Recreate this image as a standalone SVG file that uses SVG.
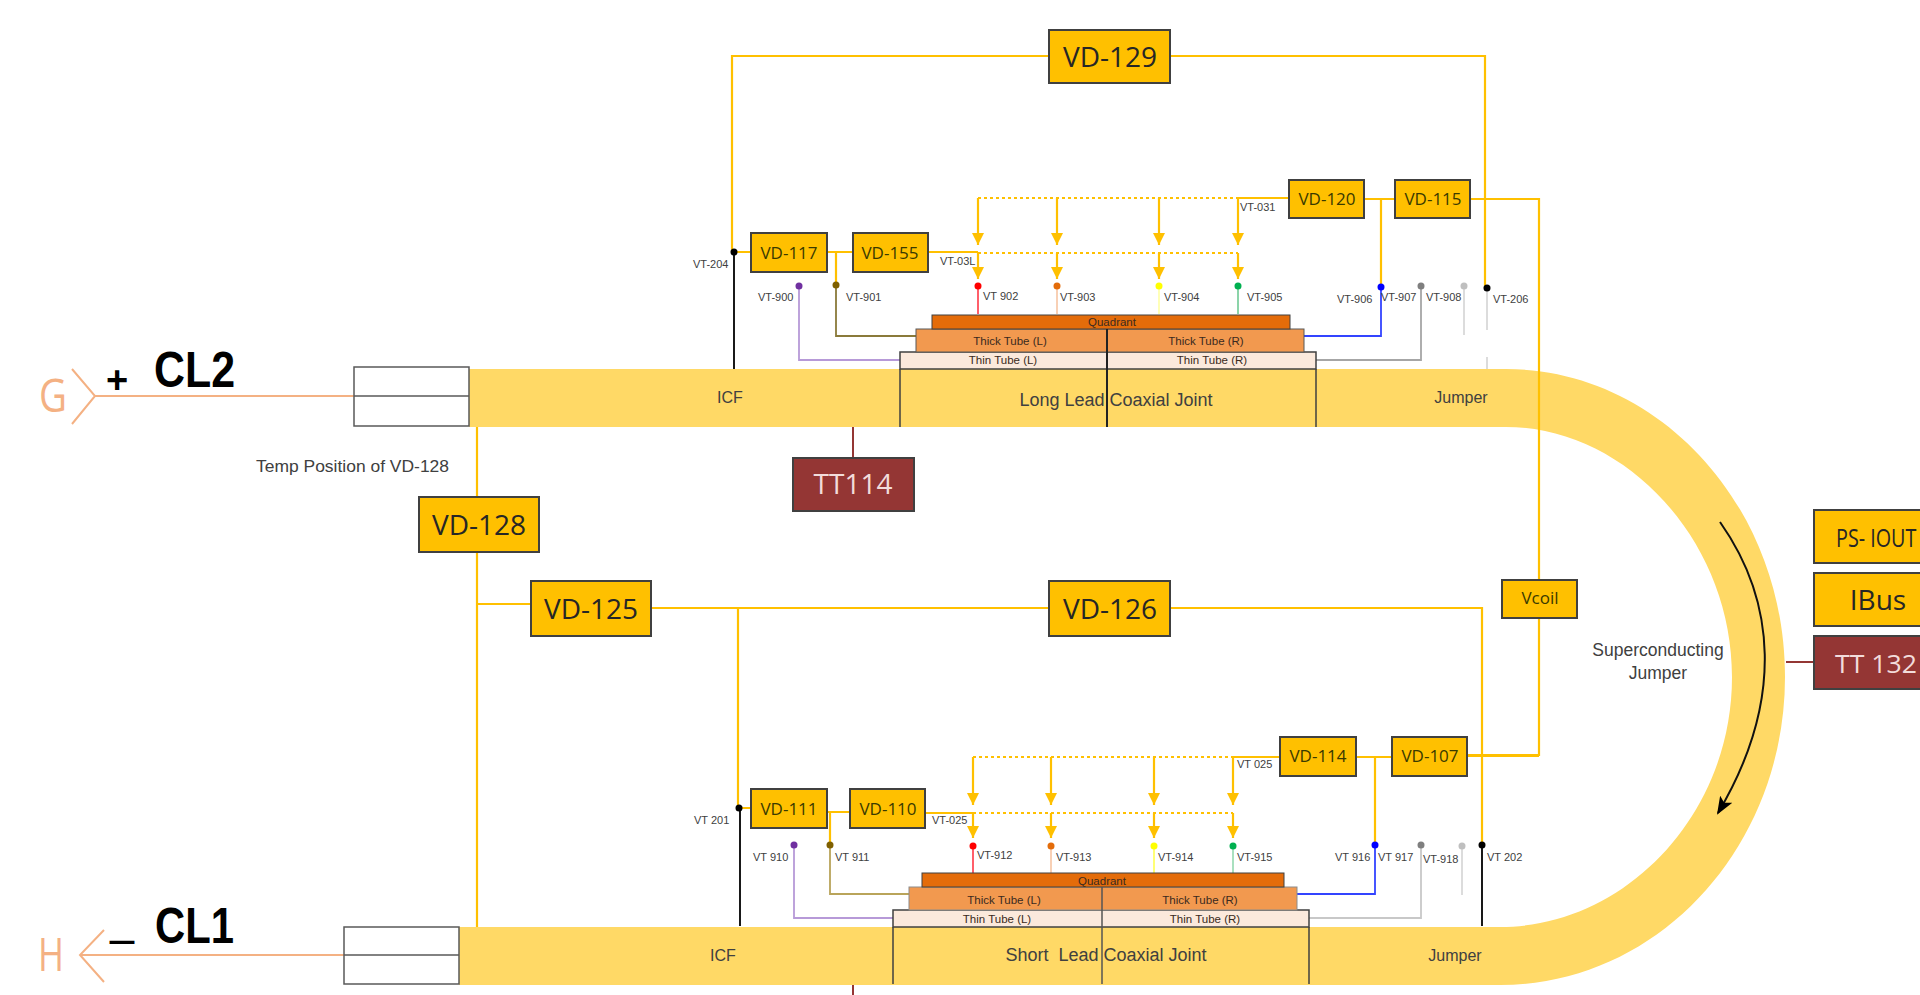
<svg xmlns="http://www.w3.org/2000/svg" width="1920" height="995" viewBox="0 0 1920 995">
<style>
text{font-family:"Liberation Sans",Arial,sans-serif;fill:#404040}
.box{fill:#FFC000;stroke:#404040;stroke-width:2}
.red{fill:#943634;stroke:#404040;stroke-width:2}
.big{font-family:"Open Sans",sans-serif;font-size:28px;text-anchor:middle;fill:#262626}
.sm{font-family:"Open Sans",sans-serif;font-size:17px;text-anchor:middle;fill:#3a3a00}
.vt{font-size:11px}
.band{font-size:16px;text-anchor:middle}
.joint{font-size:18px;text-anchor:middle}
.tube{font-size:11.5px;text-anchor:middle;fill:#3a2a20}
.y{fill:none;stroke:#FFC000;stroke-width:2.2}
.yd{fill:none;stroke:#FFC000;stroke-width:2.2;stroke-dasharray:3 3}
.ya{fill:none;stroke:#FFC000;stroke-width:2.2;marker-end:url(#ah)}
.c{fill:none;stroke-width:1.8}
.lead{fill:none;stroke:#F4B183;stroke-width:2}
.joint-line{fill:none;stroke:#404040;stroke-width:1.5}
.tt{stroke:#943634;stroke-width:2;fill:none}
</style>
<defs>
<marker id="ah" markerWidth="12" markerHeight="12" refX="12" refY="6" orient="auto" markerUnits="userSpaceOnUse" viewBox="0 0 12 12"><path d="M0 0L12 6L0 12Z" fill="#FFC000"/></marker>
<marker id="ak" markerWidth="18" markerHeight="14" refX="16" refY="7" orient="auto" markerUnits="userSpaceOnUse" viewBox="0 0 18 14"><path d="M0 0L18 7L0 14L4 7Z" fill="#000"/></marker>
</defs>

<g id="jumper-band">
<path d="M469 369H1506C1660 369 1785 507 1785 677C1785 845 1660 985 1500 985H459V927H1500C1625 927 1732 815 1732 677C1732 540 1625 427 1506 427H469Z" fill="#FFD966"/>
<text class="band" x="730" y="403">ICF</text>
<text class="band" x="1461" y="403">Jumper</text>
<text class="band" x="723" y="961">ICF</text>
<text class="band" x="1455" y="961">Jumper</text>
<path d="M1720 522C1775 600 1785 700 1718 813" fill="none" stroke="#111" stroke-width="2" marker-end="url(#ak)"/>
</g>

<g id="connectors">
<path class="y" d="M477 427V927M477 604H531M651 608H1049M1170 608H1482V845M738 608V808"/>
<path class="y" d="M732 252V56H1049M1170 56H1485V288"/>
<path class="y" d="M734 252H751M827 252H853M836 252V285M928 252H978"/>
<path class="y" d="M1238 198H1289M1364 199H1395M1381 199V287M1470 199H1539V580M1539 618V755H1467"/>
<path class="yd" d="M978 198H1238M978 253H1238"/>
<path class="ya" d="M978 198V245"/><path class="ya" d="M978 253V279"/>
<path class="ya" d="M1057 198V245"/><path class="ya" d="M1057 253V279"/>
<path class="ya" d="M1159 198V245"/><path class="ya" d="M1159 253V279"/>
<path class="ya" d="M1238 198V245"/><path class="ya" d="M1238 253V279"/>
<path class="c" stroke="#000" d="M734 252V369"/>
<path class="c" stroke="#8A7A3A" d="M836 285V336H916"/>
<path class="c" stroke="#B79AD8" d="M799 286V360H900"/>
<path class="c" stroke="#FF4D5A" d="M978 286V314"/>
<path class="c" stroke="#F8CBAD" d="M1057 286V314"/>
<path class="c" stroke="#FFFFB0" d="M1159 286V314"/>
<path class="c" stroke="#7FD0A0" d="M1238 286V314"/>
<path class="c" stroke="#3344FF" d="M1381 287V336H1304"/>
<path class="c" stroke="#A6A6A6" d="M1421 286V360H1316"/>
<path class="c" stroke="#D9D9D9" d="M1464 286V335M1487 290V330M1487 357V369"/>
<g fill="#000"><circle cx="734" cy="252" r="3.5"/><circle cx="1487" cy="288" r="3.5"/></g>
<circle cx="799" cy="286" r="3.5" fill="#7030A0"/><circle cx="836" cy="285" r="3.5" fill="#7F6000"/>
<circle cx="978" cy="286" r="3.5" fill="#FF0000"/><circle cx="1057" cy="286" r="3.5" fill="#E36C0A"/>
<circle cx="1159" cy="286" r="3.5" fill="#FFFF00"/><circle cx="1238" cy="286" r="3.5" fill="#00B050"/>
<circle cx="1381" cy="287" r="3.5" fill="#0000FF"/><circle cx="1421" cy="286" r="3.5" fill="#7F7F7F"/><circle cx="1464" cy="286" r="3.5" fill="#BFBFBF"/>

<path class="y" d="M739 808H751M827 812H850M830 812V845M925 813H973"/>
<path class="y" d="M1232 757H1280M1356 757H1392M1375 757V845M1467 756H1539"/>
<path class="yd" d="M973 757H1232M973 813H1233"/>
<path class="ya" d="M973 757V805"/><path class="ya" d="M973 813V838"/>
<path class="ya" d="M1051 757V805"/><path class="ya" d="M1051 813V838"/>
<path class="ya" d="M1154 757V805"/><path class="ya" d="M1154 813V838"/>
<path class="ya" d="M1233 757V805"/><path class="ya" d="M1233 813V838"/>
<path class="c" stroke="#000" d="M740 808V926M1482 845V926"/>
<path class="c" stroke="#B9A45A" d="M830 845V894H909"/>
<path class="c" stroke="#B79AD8" d="M794 845V918H893"/>
<path class="c" stroke="#FF4D5A" d="M973 846V873"/>
<path class="c" stroke="#F8CBAD" d="M1051 846V873"/>
<path class="c" stroke="#FFFF66" d="M1154 846V873"/>
<path class="c" stroke="#A0DDB8" d="M1233 846V873"/>
<path class="c" stroke="#3344FF" d="M1375 845V894H1297"/>
<path class="c" stroke="#C8C8C8" d="M1421 845V918H1309"/>
<path class="c" stroke="#D9D9D9" d="M1462 846V895"/>
<circle cx="739" cy="808" r="3.5" fill="#000"/><circle cx="1482" cy="845" r="3.5" fill="#000"/>
<circle cx="794" cy="845" r="3.5" fill="#7030A0"/><circle cx="830" cy="845" r="3.5" fill="#7F6000"/>
<circle cx="973" cy="846" r="3.5" fill="#FF0000"/><circle cx="1051" cy="846" r="3.5" fill="#E36C0A"/>
<circle cx="1154" cy="846" r="3.5" fill="#FFFF00"/><circle cx="1233" cy="846" r="3.5" fill="#00B050"/>
<circle cx="1375" cy="845" r="3.5" fill="#0000FF"/><circle cx="1421" cy="845" r="3.5" fill="#7F7F7F"/><circle cx="1462" cy="846" r="3.5" fill="#BFBFBF"/>

<path class="tt" d="M853 427V458M853 985V995M1786 662H1814"/>
<path class="lead" d="M95 396H354M72 369L95 396L72 424"/>
<path class="lead" d="M80 955H344M104 930L80 955L104 982"/>
</g>

<g id="vt-labels">
<text class="vt" x="693" y="268">VT-204</text><text class="vt" x="758" y="301">VT-900</text><text class="vt" x="846" y="301">VT-901</text>
<text class="vt" x="983" y="300">VT 902</text><text class="vt" x="1060" y="301">VT-903</text><text class="vt" x="1164" y="301">VT-904</text>
<text class="vt" x="1247" y="301">VT-905</text><text class="vt" x="1337" y="303">VT-906</text><text class="vt" x="1381" y="301">VT-907</text>
<text class="vt" x="1426" y="301">VT-908</text><text class="vt" x="1493" y="303">VT-206</text><text class="vt" x="940" y="265">VT-03L</text>
<text class="vt" x="1240" y="211">VT-031</text>
<text class="vt" x="694" y="824">VT 201</text><text class="vt" x="753" y="861">VT 910</text><text class="vt" x="835" y="861">VT 911</text>
<text class="vt" x="977" y="859">VT-912</text><text class="vt" x="1056" y="861">VT-913</text><text class="vt" x="1158" y="861">VT-914</text>
<text class="vt" x="1237" y="861">VT-915</text><text class="vt" x="1335" y="861">VT 916</text><text class="vt" x="1378" y="861">VT 917</text>
<text class="vt" x="1423" y="863">VT-918</text><text class="vt" x="1487" y="861">VT 202</text><text class="vt" x="932" y="824">VT-025</text>
<text class="vt" x="1237" y="768">VT 025</text>
</g>

<g id="long-lead-joint">
<rect x="900" y="352" width="416" height="17" fill="#FBE9DC" stroke="#404040" stroke-width="1.5"/>
<rect x="916" y="329" width="388" height="23" fill="#F2994F" stroke="#595959" stroke-width="1"/>
<rect x="932" y="315" width="358" height="14" fill="#E46C0A" stroke="#404040" stroke-width="1"/>
<path class="joint-line" d="M900 369V427M1316 369V427"/>
<path d="M1107 329V427" stroke="#222" stroke-width="2"/>
<text class="tube" x="1112" y="326">Quadrant</text><text class="tube" x="1010" y="345">Thick Tube (L)</text><text class="tube" x="1206" y="345">Thick Tube (R)</text>
<text class="tube" x="1003" y="364">Thin Tube (L)</text><text class="tube" x="1212" y="364">Thin Tube (R)</text>
<text class="joint" x="1116" y="406">Long Lead Coaxial Joint</text>
</g>

<g id="short-lead-joint">
<rect x="893" y="910" width="416" height="17" fill="#FBE9DC" stroke="#404040" stroke-width="1.5"/>
<rect x="909" y="887" width="388" height="23" fill="#F2994F" stroke="#8C8C8C" stroke-width="1"/>
<rect x="922" y="873" width="362" height="14" fill="#E46C0A" stroke="#404040" stroke-width="1"/>
<path class="joint-line" d="M893 927V984M1309 927V984"/>
<path d="M1102 887V984" stroke="#555" stroke-width="1.5"/>
<text class="tube" x="1102" y="885">Quadrant</text><text class="tube" x="1004" y="904">Thick Tube (L)</text><text class="tube" x="1200" y="904">Thick Tube (R)</text>
<text class="tube" x="997" y="923">Thin Tube (L)</text><text class="tube" x="1205" y="923">Thin Tube (R)</text>
<text class="joint" x="1106" y="961" xml:space="preserve">Short  Lead Coaxial Joint</text>
</g>

<g id="cl2"><rect x="354" y="367" width="115" height="59" fill="#fff" stroke="#595959" stroke-width="1.5"/><path d="M354 396H469" stroke="#595959" stroke-width="1.5"/>
<text x="39" y="412" font-size="46" style="font-family:'Open Sans',sans-serif;fill:#F4B183" textLength="28" lengthAdjust="spacingAndGlyphs">G</text>
<text x="106" y="393" font-size="38" font-weight="700" style="fill:#000">+</text>
<text x="154" y="387" font-size="50" font-weight="700" style="fill:#000" textLength="81" lengthAdjust="spacingAndGlyphs">CL2</text></g>
<g id="cl1"><rect x="344" y="927" width="115" height="57" fill="#fff" stroke="#595959" stroke-width="1.5"/><path d="M344 955H459" stroke="#595959" stroke-width="1.5"/>
<text x="38" y="971" font-size="46" style="font-family:'Open Sans',sans-serif;fill:#F4B183" textLength="26" lengthAdjust="spacingAndGlyphs">H</text>
<text x="108" y="951" font-size="34" font-weight="700" style="fill:#000" textLength="28" lengthAdjust="spacingAndGlyphs">–</text>
<text x="155" y="943" font-size="50" font-weight="700" style="fill:#000" textLength="79" lengthAdjust="spacingAndGlyphs">CL1</text></g>

<g id="temp-note"><text x="256" y="472" font-size="17" textLength="193" lengthAdjust="spacingAndGlyphs">Temp Position of VD-128</text></g>
<g id="sc-jumper"><text x="1658" y="656" font-size="17.5" text-anchor="middle">Superconducting</text><text x="1658" y="679" font-size="17.5" text-anchor="middle">Jumper</text></g>

<g id="vd-129"><rect class="box" x="1049" y="30" width="121" height="53"/><text class="big" x="1110" y="67">VD-129</text></g>
<g id="vd-128"><rect class="box" x="419" y="497" width="120" height="55"/><text class="big" x="479" y="535">VD-128</text></g>
<g id="vd-125"><rect class="box" x="531" y="581" width="120" height="55"/><text class="big" x="591" y="619">VD-125</text></g>
<g id="vd-126"><rect class="box" x="1049" y="581" width="121" height="55"/><text class="big" x="1110" y="619">VD-126</text></g>
<g id="tt114"><rect class="red" x="793" y="458" width="121" height="53"/><text class="big" style="fill:#F2DCDB" x="853" y="494">TT114</text></g>
<g id="ps-iout"><rect class="box" x="1814" y="510" width="130" height="53"/><text class="big" transform="translate(1836 547) scale(.76 1)" x="0" y="0" style="text-anchor:start;font-size:26px">PS- IOUT</text></g>
<g id="ibus"><rect class="box" x="1814" y="573" width="130" height="53"/><text class="big" x="1878" y="610">IBus</text></g>
<g id="tt132"><rect class="red" x="1814" y="636" width="130" height="53"/><text class="big" x="1835" y="673" style="text-anchor:start;fill:#F2DCDB;font-size:26px" textLength="82" lengthAdjust="spacingAndGlyphs">TT 132</text></g>
<g id="vcoil"><rect class="box" x="1502" y="580" width="75" height="38"/><text class="sm" x="1540" y="604">Vcoil</text></g>
<g id="vd-117"><rect class="box" x="751" y="233" width="76" height="39"/><text class="sm" x="789" y="259">VD-117</text></g>
<g id="vd-155"><rect class="box" x="853" y="233" width="75" height="39"/><text class="sm" x="890" y="259">VD-155</text></g>
<g id="vd-120"><rect class="box" x="1289" y="180" width="75" height="38"/><text class="sm" x="1327" y="205">VD-120</text></g>
<g id="vd-115"><rect class="box" x="1395" y="180" width="75" height="38"/><text class="sm" x="1433" y="205">VD-115</text></g>
<g id="vd-111"><rect class="box" x="751" y="789" width="76" height="39"/><text class="sm" x="789" y="815">VD-111</text></g>
<g id="vd-110"><rect class="box" x="850" y="789" width="75" height="39"/><text class="sm" x="888" y="815">VD-110</text></g>
<g id="vd-114"><rect class="box" x="1280" y="737" width="76" height="39"/><text class="sm" x="1318" y="762">VD-114</text></g>
<g id="vd-107"><rect class="box" x="1392" y="737" width="75" height="39"/><text class="sm" x="1430" y="762">VD-107</text></g>
</svg>
